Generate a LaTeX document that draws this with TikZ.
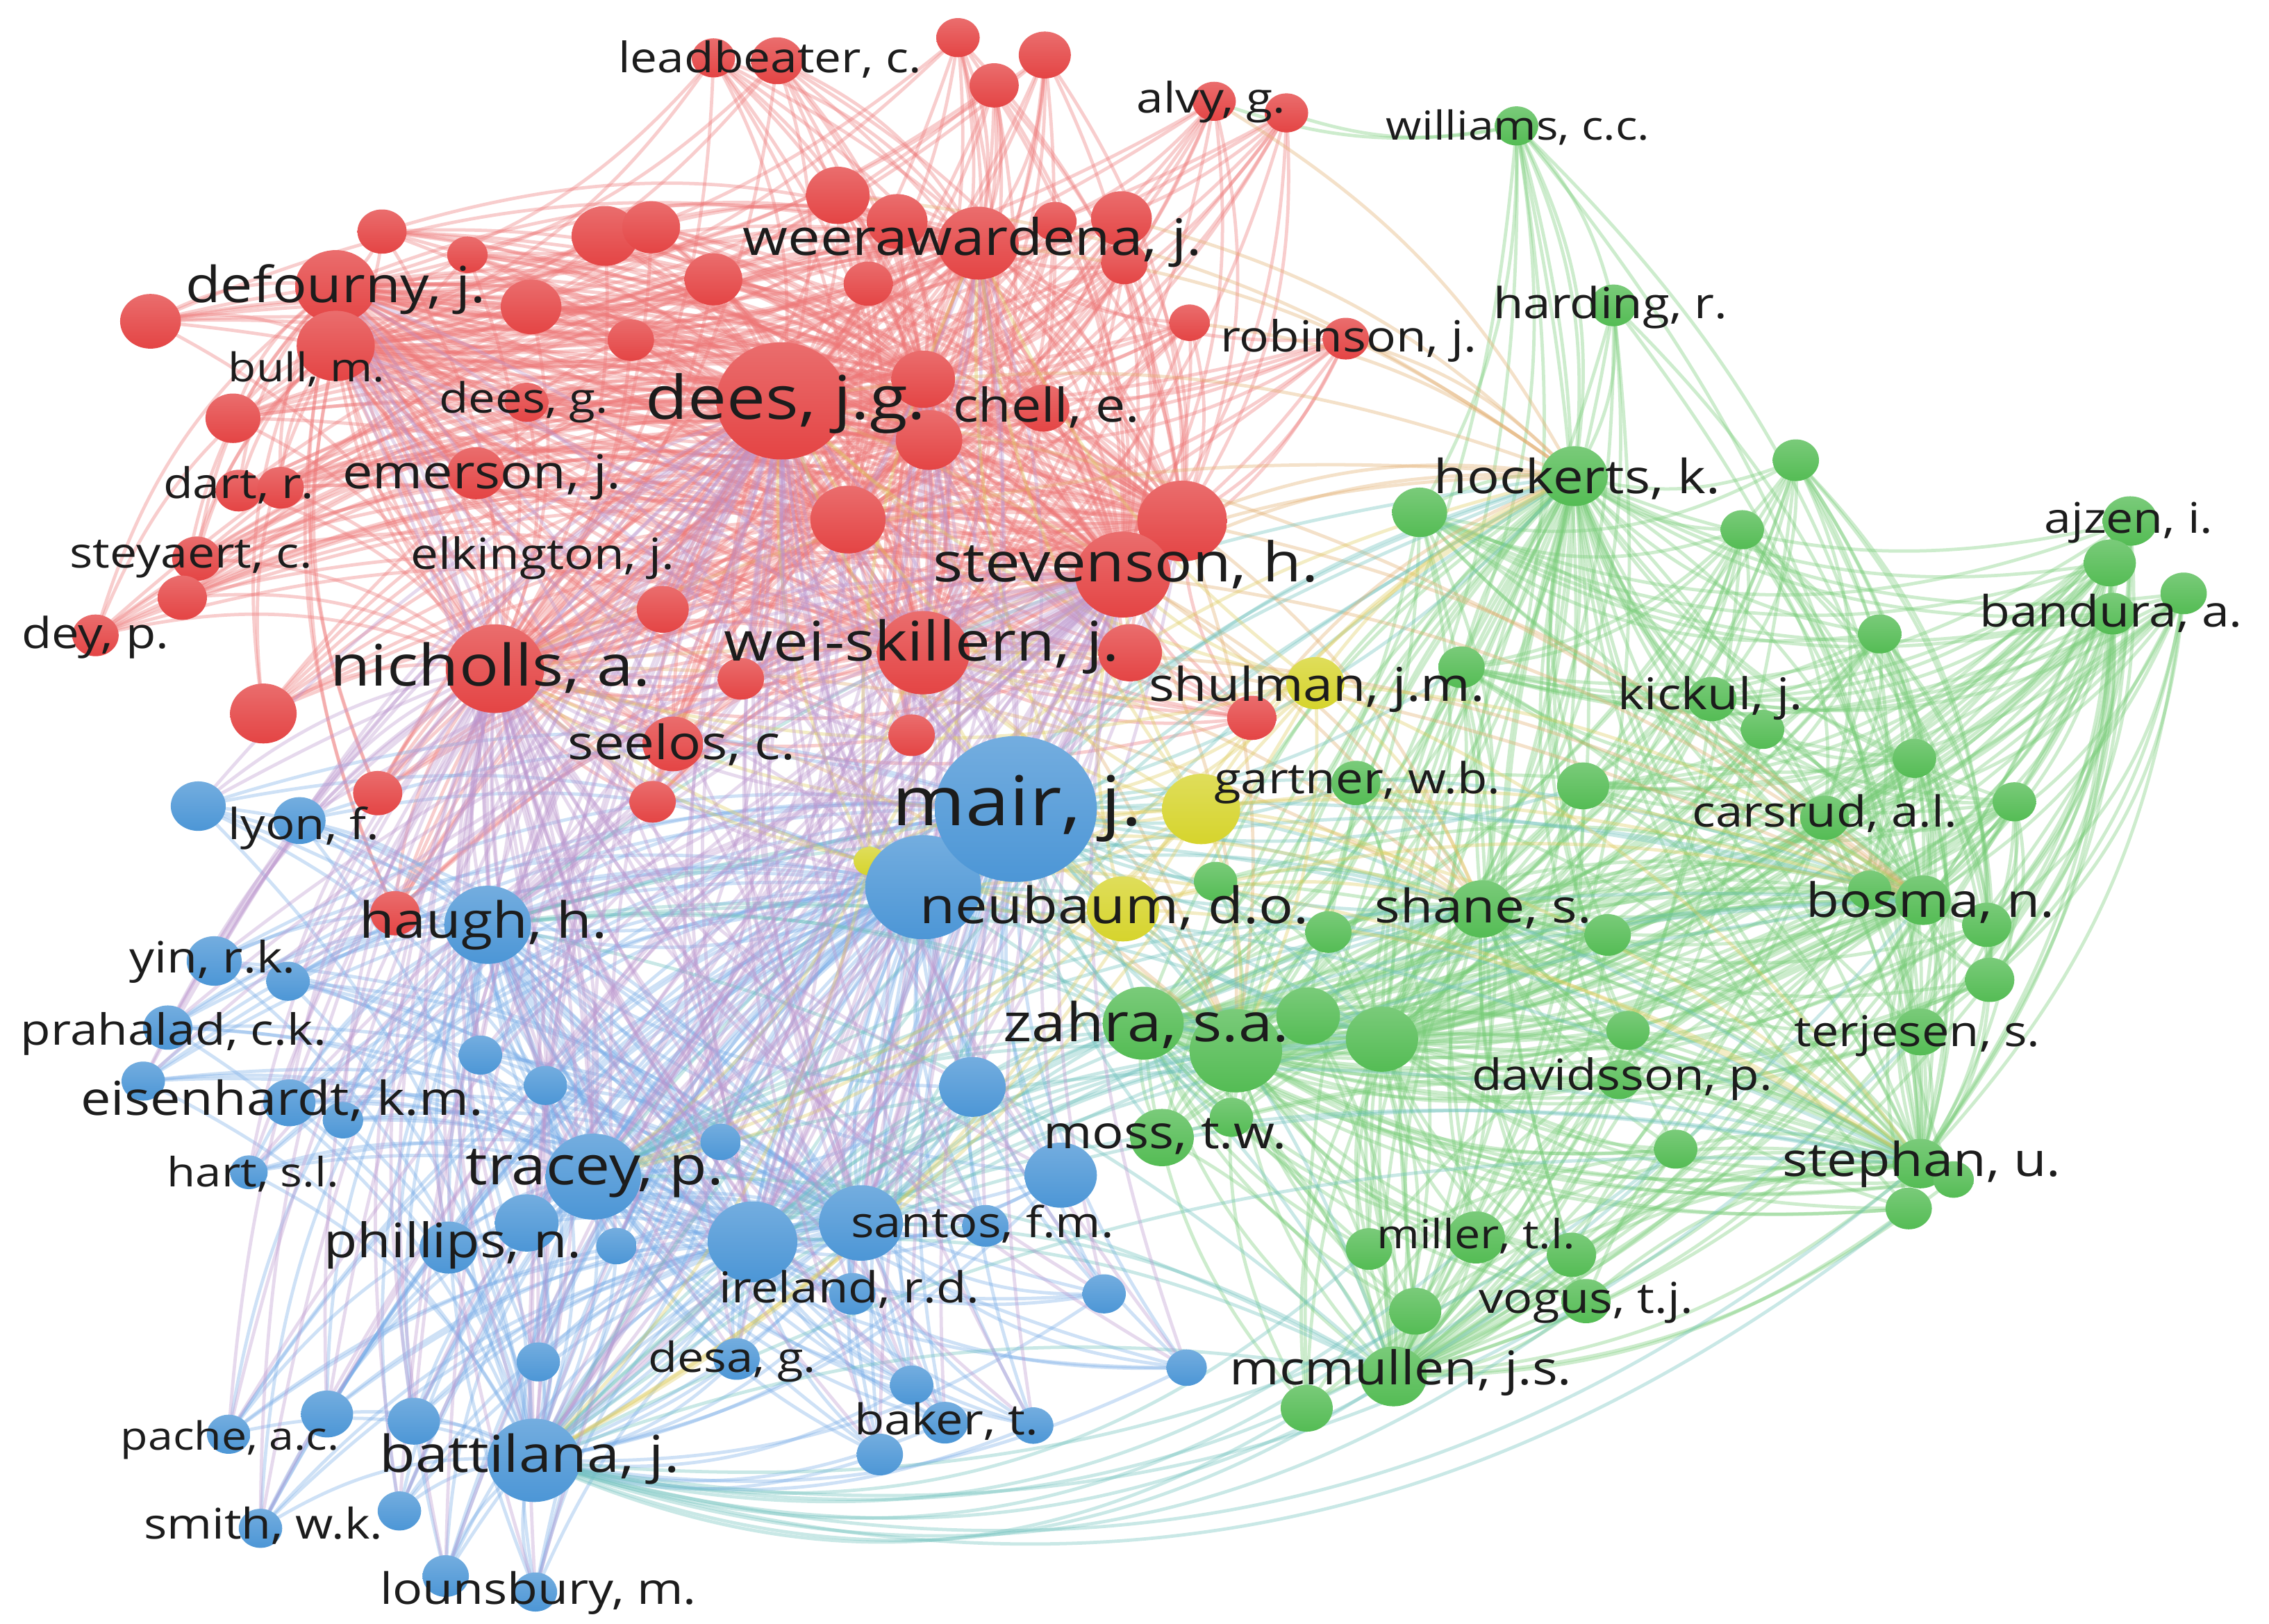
\documentclass[tikz,border=0pt]{standalone}
\usepackage{fontspec}
\setmainfont{Open Sans}[FakeStretch=1.15]
\usetikzlibrary{shapes.geometric}
\pgfdeclarelayer{background}
\pgfsetlayers{background,main}
\definecolor{redc}{RGB}{228,68,68}
\definecolor{bluec}{RGB}{76,150,214}
\definecolor{greenc}{RGB}{84,188,84}
\definecolor{yelc}{RGB}{214,212,44}
\definecolor{edR}{RGB}{238,118,118}
\definecolor{edB}{RGB}{120,172,232}
\definecolor{edG}{RGB}{118,204,118}
\definecolor{edRG}{RGB}{226,172,108}
\definecolor{edRB}{RGB}{188,150,206}
\definecolor{edBG}{RGB}{108,192,188}
\definecolor{edY}{RGB}{222,204,92}
\definecolor{labc}{RGB}{28,28,28}
\tikzset{
 nd/.style={ellipse, inner sep=0pt, draw=none},
 rn/.style={nd, top color=redc!78!white, bottom color=redc, minimum width={#1*0.04cm}, minimum height={#1*0.036cm}},
 bn/.style={nd, top color=bluec!78!white, bottom color=bluec, minimum width={#1*0.04cm}, minimum height={#1*0.036cm}},
 gn/.style={nd, top color=greenc!78!white, bottom color=greenc, minimum width={#1*0.04cm}, minimum height={#1*0.036cm}},
 yn/.style={nd, top color=yelc!78!white, bottom color=yelc, minimum width={#1*0.04cm}, minimum height={#1*0.036cm}},
 lab/.style={anchor=mid, inner sep=0pt, text=labc, yshift={-#1*0.0066cm}, font=\fontsize{#1}{#1}\selectfont},
 ed/.style={line width=1.3pt, opacity=0.36},
 er/.style={ed, draw=edR},
 eb/.style={ed, draw=edB},
 eg/.style={ed, draw=edG},
 ery/.style={ed, draw=edRG},
 erb/.style={ed, draw=edRB},
 ebg/.style={ed, draw=edBG},
 ey/.style={ed, draw=edY},
}
\begin{document}
\begin{tikzpicture}[x=0.02cm, y=-0.02cm]
\useasboundingbox (0,0) rectangle (1568,1122);
% ---------------- red nodes
\foreach \n/\x/\y/\r in {
 1/493/40/15, 2/537/42/18, 3/662/26/15, 4/722/38/18, 5/687/59/17, 6/839/70/15, 7/889/78/15,
 8/579/135/22, 9/620/153/21, 10/676/168/28, 11/729/153/15, 12/775/151/21, 13/777/182/16,
 14/600/196/17, 15/493/193/20, 16/367/212/21, 17/436/235/16, 18/232/198/28, 19/232/239/27,
 20/104/222/21, 21/161/289/19, 22/165/339/16, 23/194/337/16, 24/329/327/20, 25/364/278/15,
 26/540/277/45, 27/638/262/22, 28/642/304/23, 29/721/282/18, 30/822/223/14, 31/930/234/16,
 32/586/359/26, 33/817/360/31, 34/776/397/33, 35/136/386/17, 36/126/413/17, 37/66/439/16,
 38/458/421/18, 39/342/462/34, 40/182/493/23, 41/512/469/16, 42/465/514/21, 43/630/508/16,
 44/261/548/17, 45/451/554/16, 46/273/631/17, 47/638/451/32, 48/781/451/22, 49/865/496/17,
 50/264/160/17, 51/418/163/23, 52/450/157/20, 53/323/176/14}
 {\node[rn=\r] (R\n) at (\x,\y) {};}
% ---------------- yellow nodes
\foreach \n/\x/\y/\r in {1/909/472/20, 2/830/559/27, 3/776/628/25, 4/601/595/11}
 {\node[yn=\r] (Y\n) at (\x,\y) {};}
% ---------------- green nodes
\foreach \n/\x/\y/\r in {
 1/1048/87/15, 2/1115/211/16, 3/1088/329/23, 4/981/354/19, 5/1241/318/16, 6/1204/366/15,
 7/1472/360/19, 8/1458/389/18, 9/1509/410/16, 10/1460/424/16, 11/1299/438/15, 12/1010/461/16,
 13/1183/483/17, 14/1218/504/15, 15/1323/524/15, 16/1392/554/15, 17/1094/543/18, 18/1261/565/17,
 19/937/541/17, 20/1024/628/22, 21/1111/646/16, 22/918/644/16, 23/840/609/15, 24/1329/622/19,
 25/1292/615/15, 26/1373/639/17, 27/1375/677/17, 28/1327/713/18, 29/1125/712/15, 30/1119/746/15,
 31/1158/794/15, 32/1327/804/19, 33/1350/815/14, 34/1319/835/16, 35/790/707/28, 36/854/726/32,
 37/904/702/22, 38/955/718/25, 39/803/786/22, 40/851/772/15, 41/946/863/16, 42/1020/855/20,
 43/1086/867/17, 44/978/906/18, 45/1096/899/17, 46/963/951/23, 47/903/973/18}
 {\node[gn=\r] (G\n) at (\x,\y) {};}
% ---------------- blue nodes
\foreach \n/\x/\y/\r in {
 2/638/613/40, 3/137/557/19, 4/207/567/18, 5/337/639/30, 6/148/664/19, 7/199/678/15,
 8/116/710/17, 9/99/747/15, 10/332/729/15, 11/377/750/15, 12/200/762/18, 13/237/774/14,
 14/172/810/13, 15/410/813/33, 16/364/845/22, 17/310/862/20, 18/426/861/14, 19/498/789/14,
 20/520/858/31, 21/595/845/29, 22/681/847/16, 23/733/812/25, 24/672/751/23, 25/589/894/16,
 26/763/894/15, 27/820/945/14, 28/509/939/16, 29/630/957/15, 30/653/983/16, 31/714/985/14,
 32/608/1005/16, 33/372/941/15, 34/369/1009/32, 35/226/977/18, 36/286/982/18, 37/158/991/15,
 38/276/1044/15, 39/180/1056/15, 40/308/1089/16, 41/370/1100/15}
 {\node[bn=\r] (B\n) at (\x,\y) {};}
\node[bn=56] (B1) at (702,559) {};
% ---------------- labels
\node[lab=16.5] (l1) at (532,40) {leadbeater, c.};
\node[lab=16.5] (l2) at (837,68) {alvy, g.};
\node[lab=15.7] (l3) at (1049,87) {williams, c.c.};
\node[lab=19.8] (l4) at (672,165) {weerawardena, j.};
\node[lab=19.6] (l5) at (232,198) {defourny, j.};
\node[lab=16.8] (l6) at (1113,210) {harding, r.};
\node[lab=16.9] (l7) at (932,233) {robinson, j.};
\node[lab=15.6] (l8) at (212,254) {bull, m.};
\node[lab=16.4] (l9) at (362,275) {dees, g.};
\node[lab=23.7] (l10) at (543,277) {dees, j.g.};
\node[lab=18.3] (l11) at (723,281) {chell, e.};
\node[lab=18.4] (l12) at (333,327) {emerson, j.};
\node[lab=16.6] (l13) at (165,334) {dart, r.};
\node[lab=18.5] (l14) at (1090,330) {hockerts, k.};
\node[lab=16.6] (l15) at (1471,358) {ajzen, i.};
\node[lab=16.6] (l16) at (132,382) {steyaert, c.};
\node[lab=16.9] (l17) at (375,383) {elkington, j.};
\node[lab=21.5] (l18) at (778,390) {stevenson, h.};
\node[lab=17] (l19) at (1459,423) {bandura, a.};
\node[lab=16.8] (l20) at (66,438) {dey, p.};
\node[lab=22.5] (l21) at (339,462) {nicholls, a.};
\node[lab=21.5] (l22) at (637,445) {wei-skillern, j.};
\node[lab=18.3] (l23) at (910,474) {shulman, j.m.};
\node[lab=17.2] (l24) at (1182,480) {kickul, j.};
\node[lab=18.6] (l25) at (471,514) {seelos, c.};
\node[lab=16.8] (l26) at (938,538) {gartner, w.b.};
\node[lab=16.8] (l27) at (1261,561) {carsrud, a.l.};
\node[lab=27] (l28) at (703,557) {mair, j.};
\node[lab=16.8] (l29) at (210,570) {lyon, f.};
\node[lab=19.7] (l30) at (770,627) {neubaum, d.o.};
\node[lab=18.2] (l31) at (1025,627) {shane, s.};
\node[lab=18.6] (l32) at (1334,623) {bosma, n.};
\node[lab=19.6] (l33) at (334,637) {haugh, h.};
\node[lab=17] (l34) at (147,662) {yin, r.k.};
\node[lab=16.9] (l35) at (120,712) {prahalad, c.k.};
\node[lab=21] (l36) at (792,708) {zahra, s.a.};
\node[lab=16.7] (l37) at (1325,713) {terjesen, s.};
\node[lab=16.9] (l38) at (1121,743) {davidsson, p.};
\node[lab=18.4] (l39) at (195,760) {eisenhardt, k.m.};
\node[lab=18] (l40) at (805,783) {moss, t.w.};
\node[lab=18.4] (l41) at (1328,802) {stephan, u.};
\node[lab=15.9] (l42) at (175,810) {hart, s.l.};
\node[lab=21.2] (l43) at (411,807) {tracey, p.};
\node[lab=16.7] (l44) at (679,845) {santos, f.m.};
\node[lab=18.7] (l45) at (313,858) {phillips, n.};
\node[lab=15.8] (l46) at (1020,853) {miller, t.l.};
\node[lab=16.8] (l47) at (587,890) {ireland, r.d.};
\node[lab=16.7] (l48) at (1096,897) {vogus, t.j.};
\node[lab=16.3] (l49) at (506,938) {desa, g.};
\node[lab=18.3] (l50) at (968,946) {mcmullen, j.s.};
\node[lab=16.7] (l51) at (654,981) {baker, t.};
\node[lab=15.3] (l52) at (159,992) {pache, a.c.};
\node[lab=20] (l53) at (366,1006) {battilana, j.};
\node[lab=16.6] (l54) at (182,1053) {smith, w.k.};
\node[lab=17] (l55) at (372,1098) {lounsbury, m.};
% ---------------- connectors
\begin{pgfonlayer}{background}
\fill[white] (0,0) rectangle (1568,1122);
% red cluster
\foreach \i in {1,...,53}{\foreach \j in {26,39,34,47,10,18,19,32,33,28,27}{\ifnum\i=\j\relax\else\draw[er] (R\i.center) to[bend left=18] (R\j.center);\fi}}
% blue cluster
\foreach \i in {1,...,41}{\foreach \j in {1,2,15,34,5,20,21}{\ifnum\i=\j\relax\else\draw[eb] (B\i.center) to[bend left=18] (B\j.center);\fi}}
% green cluster
\foreach \i in {1,...,47}{\foreach \j in {36,35,3,24,32,46,20,38}{\ifnum\i=\j\relax\else\draw[eg] (G\i.center) to[bend left=18] (G\j.center);\fi}}
\foreach \i in {7,8,9,10,5,6,11,15,16}{\foreach \j in {13,17,18,28,27,26,25,4,12}{\draw[eg] (G\i.center) to[bend left=22] (G\j.center);}}
\foreach \j in {G2,G3,G4,G12,R6,R7}{\draw[eg] (G1.center) to[bend left=15] (\j.center);}
% between clusters
\foreach \i in {26,39,34,47,10,18,19,32,33,28,27}{\foreach \j in {1,2,15,34,5,20,21}{\draw[erb] (R\i.center) to[bend left=15] (B\j.center);}}
\foreach \i in {26,39,34,47,33}{\foreach \j in {36,3,20,24}{\draw[ery] (R\i.center) to[bend left=15] (G\j.center);}}
\foreach \i in {1,2,15,34,5,20,21}{\foreach \j in {36,35,3,24,32,46,20,38}{\draw[ebg] (B\i.center) to[bend left=15] (G\j.center);}}
\foreach \i in {1,...,4}{\foreach \j in {R26,R39,R34,R47,R10,B1,B2,B15,B34,G36,G3,G24,G32,G20}{\draw[ey] (Y\i.center) to[bend left=15] (\j.center);}}
\foreach \i in {1,...,41}{\foreach \j in {39,26,34}{\draw[erb] (B\i.center) to[bend left=15] (R\j.center);}}
\foreach \i in {3,12,17,19,20,22,23,35,36,37,38,39,40}{\draw[ebg] (G\i.center) to[bend left=15] (B1.center);}
\foreach \i in {24,28,31,32,34,41,42,43,44,45,46,47}{\draw[ebg] (G\i.center) to[bend left=28] (B34.center);}
\foreach \i in {6,8,10,12,30,31,49}{\draw[ery] (R\i.center) to[bend left=15] (G3.center);}
\end{pgfonlayer}
\end{tikzpicture}
\end{document}
